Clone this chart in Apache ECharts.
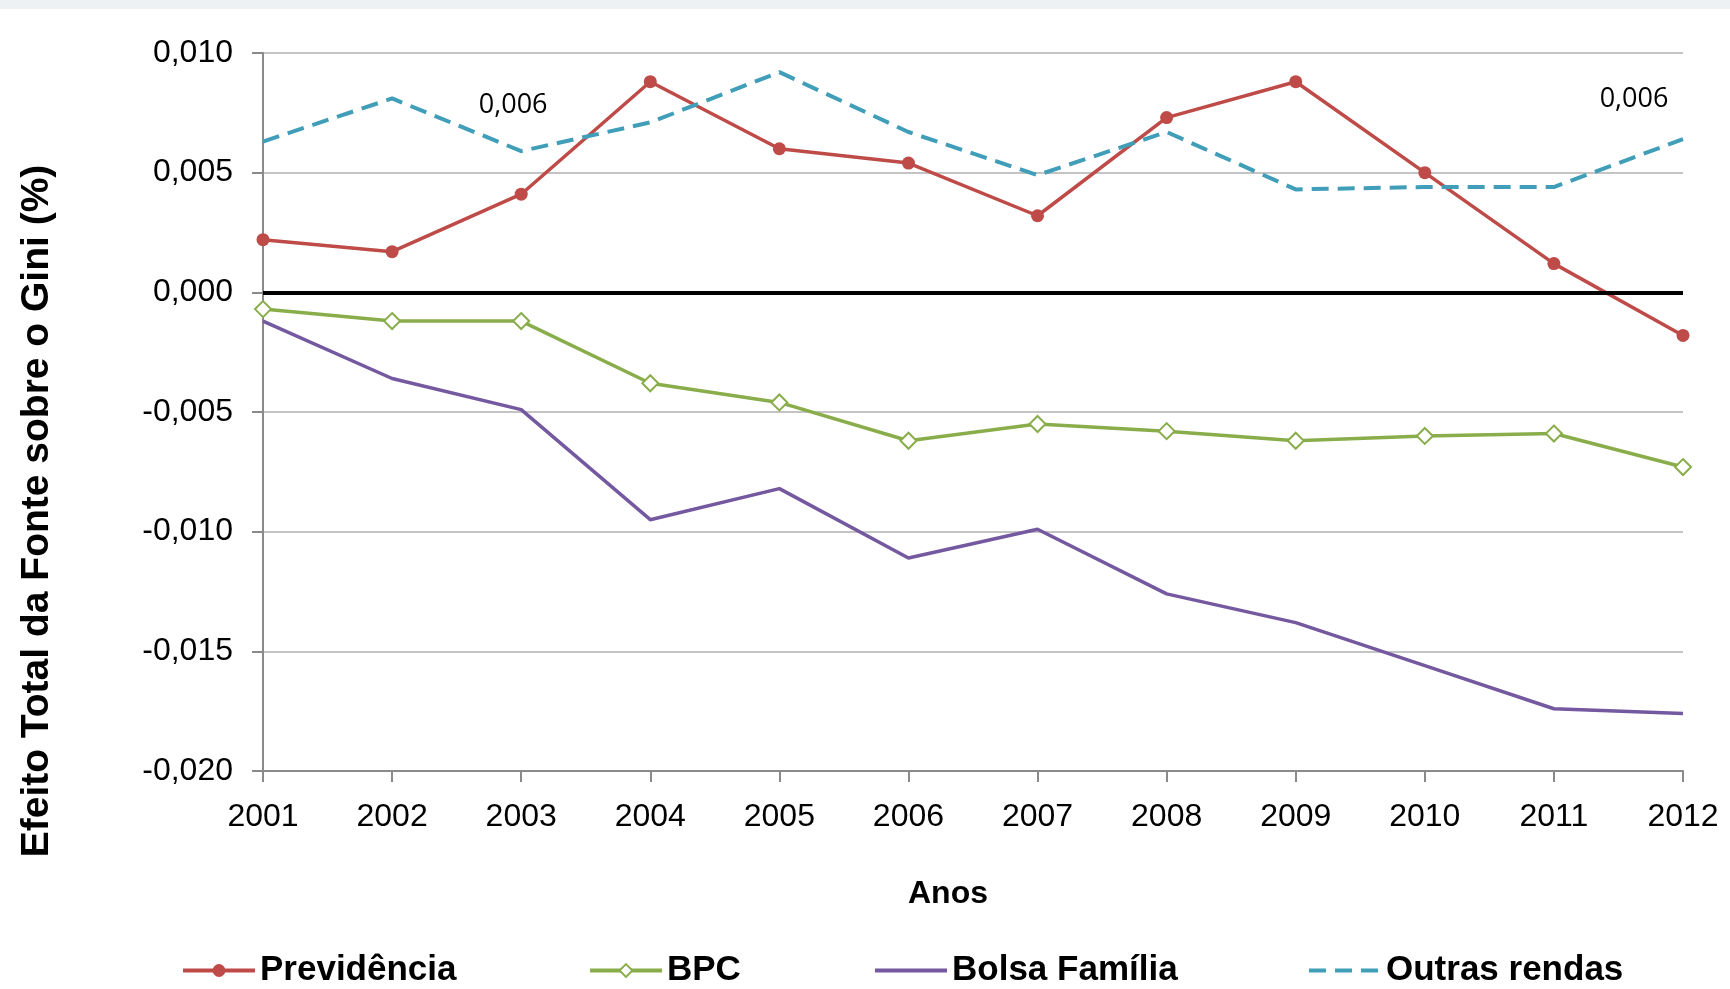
<!DOCTYPE html>
<html>
<head>
<meta charset="utf-8">
<script src="https://cdn.jsdelivr.net/npm/echarts@6/dist/echarts.min.js"></script>
<style>
  html, body { margin: 0; padding: 0; background: #fff; }
  #chart { width: 1730px; height: 989px; }
</style>
</head>
<body>
<div id="chart"></div>
<script>
// dados
var anos = ['2001', '2002', '2003', '2004', '2005', '2006', '2007', '2008', '2009', '2010', '2011', '2012']
var previdencia = [0.0022, 0.0017, 0.0041, 0.0088, 0.0060, 0.0054, 0.0032, 0.0073, 0.0088, 0.0050, 0.0012, -0.0018]
var bpc = [-0.0007, -0.0012, -0.0012, -0.0038, -0.0046, -0.0062, -0.0055, -0.0058, -0.0062, -0.0060, -0.0059, -0.0073]
var bolsaFamilia = [-0.0012, -0.0036, -0.0049, -0.0095, -0.0082, -0.0111, -0.0099, -0.0126, -0.0138, -0.0156, -0.0174, -0.0176]
var outrasRendas = [0.0063, 0.0081, 0.0059, 0.0071, 0.0092, 0.0067, 0.0049, 0.0067, 0.0043, 0.0044, 0.0044, 0.0064]
var rotulosOutras = [2, 11] // pontos com rótulo de valor
var nomes = ['Previdência', 'BPC', 'Bolsa Família', 'Outras rendas']

var fonte = "'Liberation Sans', Arial, sans-serif"

function fmt (v) {
  return v.toFixed(3).replace('.', ',')
}

// rótulos só em alguns pontos de "Outras rendas"
var offsets = { 2: [-8, -46], 11: [-49, -40] }
var outrasData = outrasRendas.map(function (v, i) {
  if (rotulosOutras.indexOf(i) < 0) return v
  return {
    value: v,
    label: {
      show: true,
      position: 'inside',
      offset: offsets[i],
      formatter: function (p) { return fmt(p.value) },
      color: '#000',
      fontFamily: "'Open Sans', sans-serif",
      fontSize: 27
    }
  }
})

// uma legenda por item, para posicionar como no original
var legendLeft = [176, 583, 868, 1302]
var semMarcador = ['Bolsa Família', 'Outras rendas']
var legends = nomes.map(function (n, i) {
  var item = { name: n }
  if (semMarcador.indexOf(n) >= 0) {
    item.itemStyle = { color: 'rgba(0,0,0,0)', borderColor: 'rgba(0,0,0,0)' }
  }
  return {
    left: legendLeft[i],
    top: 948,
    itemWidth: 72,
    itemHeight: 16,
    lineStyle: { width: 4 },
    textStyle: {
      fontFamily: fonte,
      fontWeight: 'bold',
      fontSize: 35,
      color: '#000'
    },
    data: [item]
  }
})

var myChart = echarts.init(document.getElementById('chart'))
myChart.setOption({
  animation: false,
  backgroundColor: '#fff',
  grid: {
    left: 263,
    right: 47,
    top: 53,
    bottom: 218,
    containLabel: false
  },
  legend: legends,
  xAxis: {
    type: 'category',
    boundaryGap: false,
    data: anos,
    axisLine: { onZero: false, lineStyle: { color: '#8a8a8a', width: 2 } },
    axisTick: { show: true, length: 11, lineStyle: { color: '#8a8a8a', width: 2 } },
    axisLabel: {
      margin: 30,
      color: '#000',
      fontFamily: fonte,
      fontSize: 32
    },
    splitLine: { show: false }
  },
  yAxis: {
    type: 'value',
    min: -0.02,
    max: 0.01,
    interval: 0.005,
    axisLine: { show: true, lineStyle: { color: '#8a8a8a', width: 2 } },
    axisTick: { show: true, length: 11, lineStyle: { color: '#8a8a8a', width: 2 } },
    axisLabel: {
      margin: 30,
      color: '#000',
      fontFamily: fonte,
      fontSize: 32,
      formatter: fmt
    },
    splitLine: { lineStyle: { color: '#c4c4c4', width: 2 } }
  },
  graphic: [
    {
      type: 'rect',
      shape: { x: 0, y: 0, width: 1730, height: 9 },
      style: { fill: '#eef1f4' },
      silent: true
    },
    {
      type: 'text',
      x: 37,
      y: 511,
      rotation: Math.PI / 2,
      style: {
        text: 'Efeito Total da Fonte sobre o Gini (%)',
        fill: '#000',
        font: "bold 39px 'Liberation Sans', Arial, sans-serif",
        align: 'center',
        verticalAlign: 'middle'
      }
    },
    {
      type: 'text',
      x: 948,
      y: 894,
      style: {
        text: 'Anos',
        fill: '#000',
        font: "bold 32px 'Liberation Sans', Arial, sans-serif",
        align: 'center',
        verticalAlign: 'middle'
      }
    }
  ],
  series: [
    {
      name: 'Previdência',
      type: 'line',
      data: previdencia,
      symbol: 'circle',
      symbolSize: 13,
      itemStyle: { color: '#be4b48' },
      lineStyle: { color: '#be4b48', width: 3.5 },
      emphasis: { disabled: true },
      markLine: {
        silent: true,
        symbol: 'none',
        label: { show: false },
        lineStyle: { color: '#000', width: 4, type: 'solid' },
        data: [{ yAxis: 0 }]
      }
    },
    {
      name: 'BPC',
      type: 'line',
      data: bpc,
      symbol: 'diamond',
      symbolSize: 16,
      itemStyle: { color: '#fff', borderColor: '#89ad4a', borderWidth: 2 },
      lineStyle: { color: '#89ad4a', width: 3.5 },
      emphasis: { disabled: true }
    },
    {
      name: 'Bolsa Família',
      type: 'line',
      data: bolsaFamilia,
      symbol: 'none',
      itemStyle: { color: '#7459a0' },
      lineStyle: { color: '#7459a0', width: 3.5 },
      emphasis: { disabled: true }
    },
    {
      name: 'Outras rendas',
      type: 'line',
      data: outrasData,
      symbol: 'circle',
      symbolSize: 1,
      itemStyle: { color: 'rgba(0,0,0,0)' },
      lineStyle: { color: '#409eb8', width: 4, type: [17, 9] },
      emphasis: { disabled: true }
    }
  ]
})
</script>
</body>
</html>
